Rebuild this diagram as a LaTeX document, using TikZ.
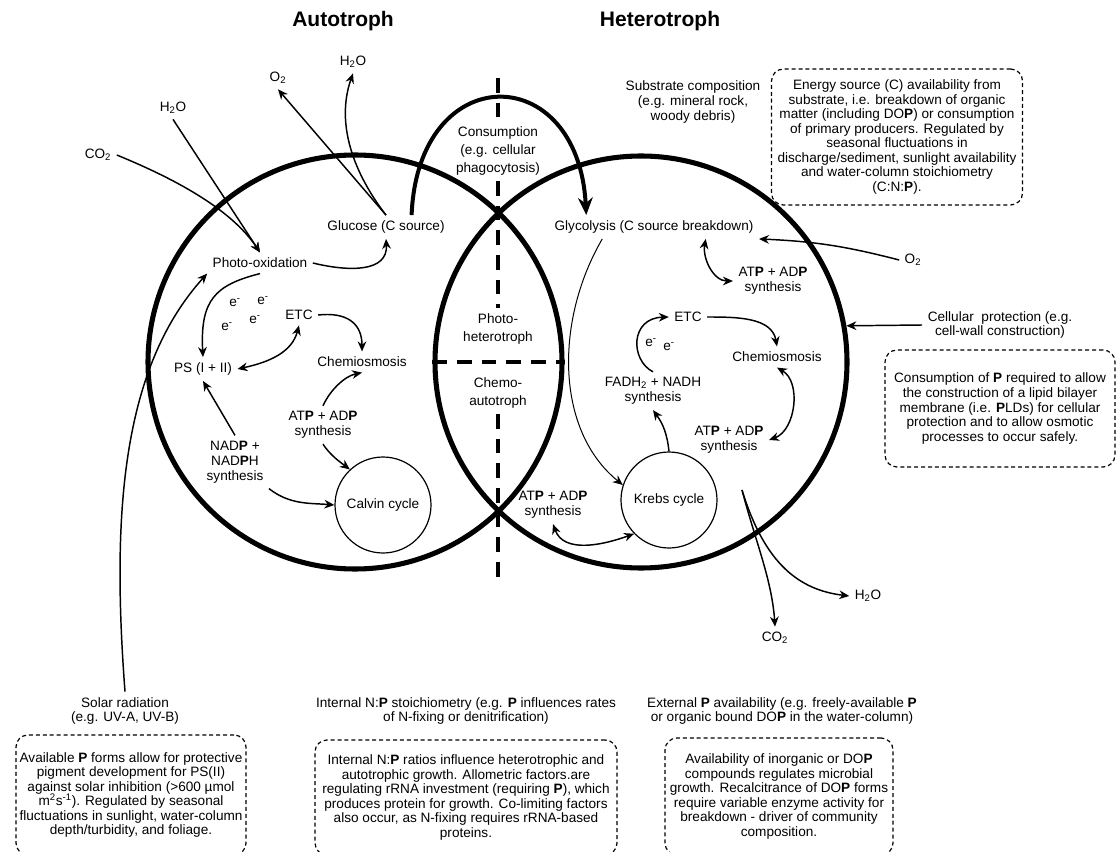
\documentclass[tikz,border=0pt]{standalone}
\usepackage{fontspec}
\setmainfont{Liberation Sans}
\usetikzlibrary{arrows.meta}

\begin{document}
\begin{tikzpicture}%
[x=0.75pt, y=-0.75pt,%
every node/.style={font=\fontsize{10.2}{11.2}\selectfont, align=center, inner sep=4pt},%
ttl/.style={font=\fontsize{15.75}{18}\selectfont\bfseries},%
lens/.style={font=\fontsize{10.2}{13.5}\selectfont},%
elec/.style={inner sep=0pt},%
cell/.style={draw, circle, line width=3.8pt, inner sep=0pt},%
cyc/.style={draw, circle, line width=0.9pt, inner sep=0pt, minimum size=72pt},%
note/.style={draw, rounded corners=9pt, line width=0.9pt, dash pattern=on 3pt off 2.2pt, inner sep=0pt, font=\fontsize{10.2}{10.9}\selectfont},%
split/.style={line width=3pt, dash pattern=on 11pt off 7.5pt},%
flow/.style={-{Stealth[length=7.5pt, width=6.5pt]}, line width=1.1pt},%
both/.style={{Stealth[length=7.5pt, width=6.5pt]}-{Stealth[length=7.5pt, width=6.5pt]}, line width=1.1pt},%
thin/.style={flow, line width=0.75pt}]
\useasboundingbox (0,0) rectangle (1117,852);

\node[ttl] (autot) at (343,21) {Autotroph};
\node[ttl] (heterot) at (660,21) {Heterotroph};

\node (co2L) at (98,155) {CO\textsubscript{2}};
\node (h2oL2) at (173,108) {H\textsubscript{2}O};
\node (o2L) at (278,78) {O\textsubscript{2}};
\node (h2oL1) at (353,62) {H\textsubscript{2}O};
\node (glucose) at (386,227) {Glucose (C source)};
\node (photo) at (260,263) {Photo-oxidation};
\node[elec] (eL1) at (235,303) {e\textsuperscript{-}};
\node[elec] (eL2) at (263,301) {e\textsuperscript{-}};
\node[elec] (eL3) at (227,327) {e\textsuperscript{-}};
\node[elec] (eL4) at (255,320) {e\textsuperscript{-}};
\node (etcL) at (299,315) {ETC};
\node (ps) at (203,369) {PS (I + II)};
\node (chemL) at (362,362) {Chemiosmosis};
\node (atpL) at (323,425) {AT\textbf{P} + AD\textbf{P}\\synthesis};
\node (nadp) at (235,462) {NAD\textbf{P} +\\NAD\textbf{P}H\\synthesis};
\node[cyc] (calvin) at (383,505) {Calvin cycle};

\node[lens] (consum) at (498,151) {Consumption\\(e.g. cellular\\phagocytosis)};
\node[lens] (photohet) at (498,329) {Photo-\\heterotroph};
\node[lens] (chemoaut) at (498,393) {Chemo-\\autotroph};
\node (atpM) at (553,505) {AT\textbf{P} + AD\textbf{P}\\synthesis};

\node (substr) at (693,102) {Substrate composition\\(e.g. mineral rock,\\woody debris)};
\node[note, minimum width=188.25pt, minimum height=102pt] (energy) at (897,137)
  {Energy source (C) availability from\\substrate, i.e. breakdown of organic\\matter (including DO\textbf{P}) or consumption\\of primary producers. Regulated by\\seasonal fluctuations in\\discharge/sediment, sunlight availability\\and water-column stoichiometry\\(C:N:\textbf{P}).};
\node (glyc) at (654,227) {Glycolysis (C source breakdown)};
\node (o2R) at (913,260) {O\textsubscript{2}};
\node (atpR1) at (773,281) {AT\textbf{P} + AD\textbf{P}\\synthesis};
\node (etcR) at (688,317) {ETC};
\node[elec] (eR1) at (651,343) {e\textsuperscript{-}};
\node[elec] (eR2) at (669,347) {e\textsuperscript{-}};
\node (fadh) at (653,391) {FADH\textsubscript{2} + NADH\\synthesis};
\node (chemR) at (777,357) {Chemiosmosis};
\node (atpR2) at (729,440) {AT\textbf{P} + AD\textbf{P}\\synthesis};
\node[cyc] (krebs) at (669,500) {Krebs cycle};
\node (h2oR) at (868,596) {H\textsubscript{2}O};
\node (co2R) at (775,638) {CO\textsubscript{2}};
\node (cellp) at (1000,325) {Cellular\ \ protection (e.g.\\cell-wall construction)};
\node[note, minimum width=172.5pt, minimum height=87.75pt] (pbox) at (1000,408.5)
  {Consumption of \textbf{P} required to allow\\the construction of a lipid bilayer\\membrane (i.e. \textbf{P}LDs) for cellular\\protection and to allow osmotic\\processes to occur safely.};

\node (solar) at (125,711) {Solar radiation\\(e.g. UV-A, UV-B)};
\node[note, minimum width=172.5pt, minimum height=90pt] (solarbox) at (131,795)
  {Available \textbf{P} forms allow for protective\\pigment development for PS(II)\\against solar inhibition (>600 µmol\\m\textsuperscript{2}s\textsuperscript{-1}). Regulated by seasonal\\fluctuations in sunlight, water-column\\depth/turbidity, and foliage.};
\node (intern) at (466,711) {Internal N:\textbf{P} stoichiometry (e.g. \textbf{P} influences rates\\of N-fixing or denitrification)};
\node[note, minimum width=226.5pt, minimum height=86.25pt] (internbox) at (466,797.5)
  {Internal N:\textbf{P} ratios influence heterotrophic and\\autotrophic growth. Allometric factors.are\\regulating rRNA investment (requiring \textbf{P}), which\\produces protein for growth. Co-limiting factors\\also occur, as N-fixing requires rRNA-based\\proteins.};
\node (extern) at (782,711) {External \textbf{P} availability (e.g. freely-available \textbf{P}\\or organic bound DO\textbf{P} in the water-column)};
\node[note, minimum width=171pt, minimum height=87.75pt] (externbox) at (779,796.5)
  {Availability of inorganic or DO\textbf{P}\\compounds regulates microbial\\growth. Recalcitrance of DO\textbf{P} forms\\require variable enzyme activity for\\breakdown - driver of community\\composition.};

\node[cell, minimum size=310.5pt] (auto) at (355,362) {};
\node[cell, minimum size=309pt] (hetero) at (641,362) {};

\coordinate (divtop) at (498,78);
\coordinate (divbot) at (498,582);
\draw[split] (divtop) -- (consum);
\draw[split] (consum) -- (photohet);
\draw[split] (chemoaut) -- (divbot);
\draw[split] (hetero.west) -- (auto.east);

\draw[flow] (co2L.east) .. controls (190,185) and (235,215) .. (photo.north);
\draw[flow] (h2oL2.south) -- (photo.north);
\draw[flow] (glucose.north) -- (o2L.south);
\draw[flow] (glucose.north) .. controls (355,175) and (335,125) .. (h2oL1.south);
\draw[flow] (photo.east) .. controls (350,272) and (388,272) .. (glucose.south);
\draw[flow] (solar.north) .. controls (112,520) and (120,370) .. (photo.south west);
\draw[flow] (photo.south) .. controls (215,285) and (200,300) .. (ps.north);
\draw[both] (ps.east) .. controls (270,362) and (292,352) .. (etcL.south);
\draw[flow] (etcL.east) .. controls (345,312) and (362,322) .. (chemL.north);
\draw[flow] (atpL.north) .. controls (330,390) and (345,376) .. (chemL.south);
\draw[flow] (atpL.south) .. controls (330,455) and (340,462) .. (calvin.133);
\draw[flow] (nadp.north) -- (ps.south);
\draw[flow] (nadp.south east) .. controls (290,505) and (310,503) .. (calvin.west);

\draw[line width=3pt, -{Stealth[length=13pt, width=11pt]}] (glucose.25) .. controls (418,59) and (578,59) .. (glyc.170);

\draw[flow] (o2R.west) to[bend right=6] (glyc.south east);
\draw[both] (glyc.-13) to[out=-100, in=180] (atpR1.west);
\draw[thin] (glyc.-167) .. controls (555,320) and (555,430) .. (krebs.162);
\draw[flow] (krebs.north) to[bend right=15] (fadh.south);
\draw[flow] (fadh.north) .. controls (630,360) and (630,318) .. (etcR.west);
\draw[flow] (etcR.east) to[out=0, in=100] (chemR.north);
\draw[both] (chemR.south) to[out=-30, in=20] (atpR2.east);
\draw[both] (atpM.south) to[out=-70, in=-160] (krebs.-136);
\coordinate (exhaust) at (742,490);
\draw[flow] (exhaust) .. controls (755,540) and (772,580) .. (co2R.north);
\draw[flow] (exhaust) .. controls (765,565) and (800,590) .. (h2oR.west);
\draw[flow] (cellp.west) -- (hetero.10);
\end{tikzpicture}
\end{document}
